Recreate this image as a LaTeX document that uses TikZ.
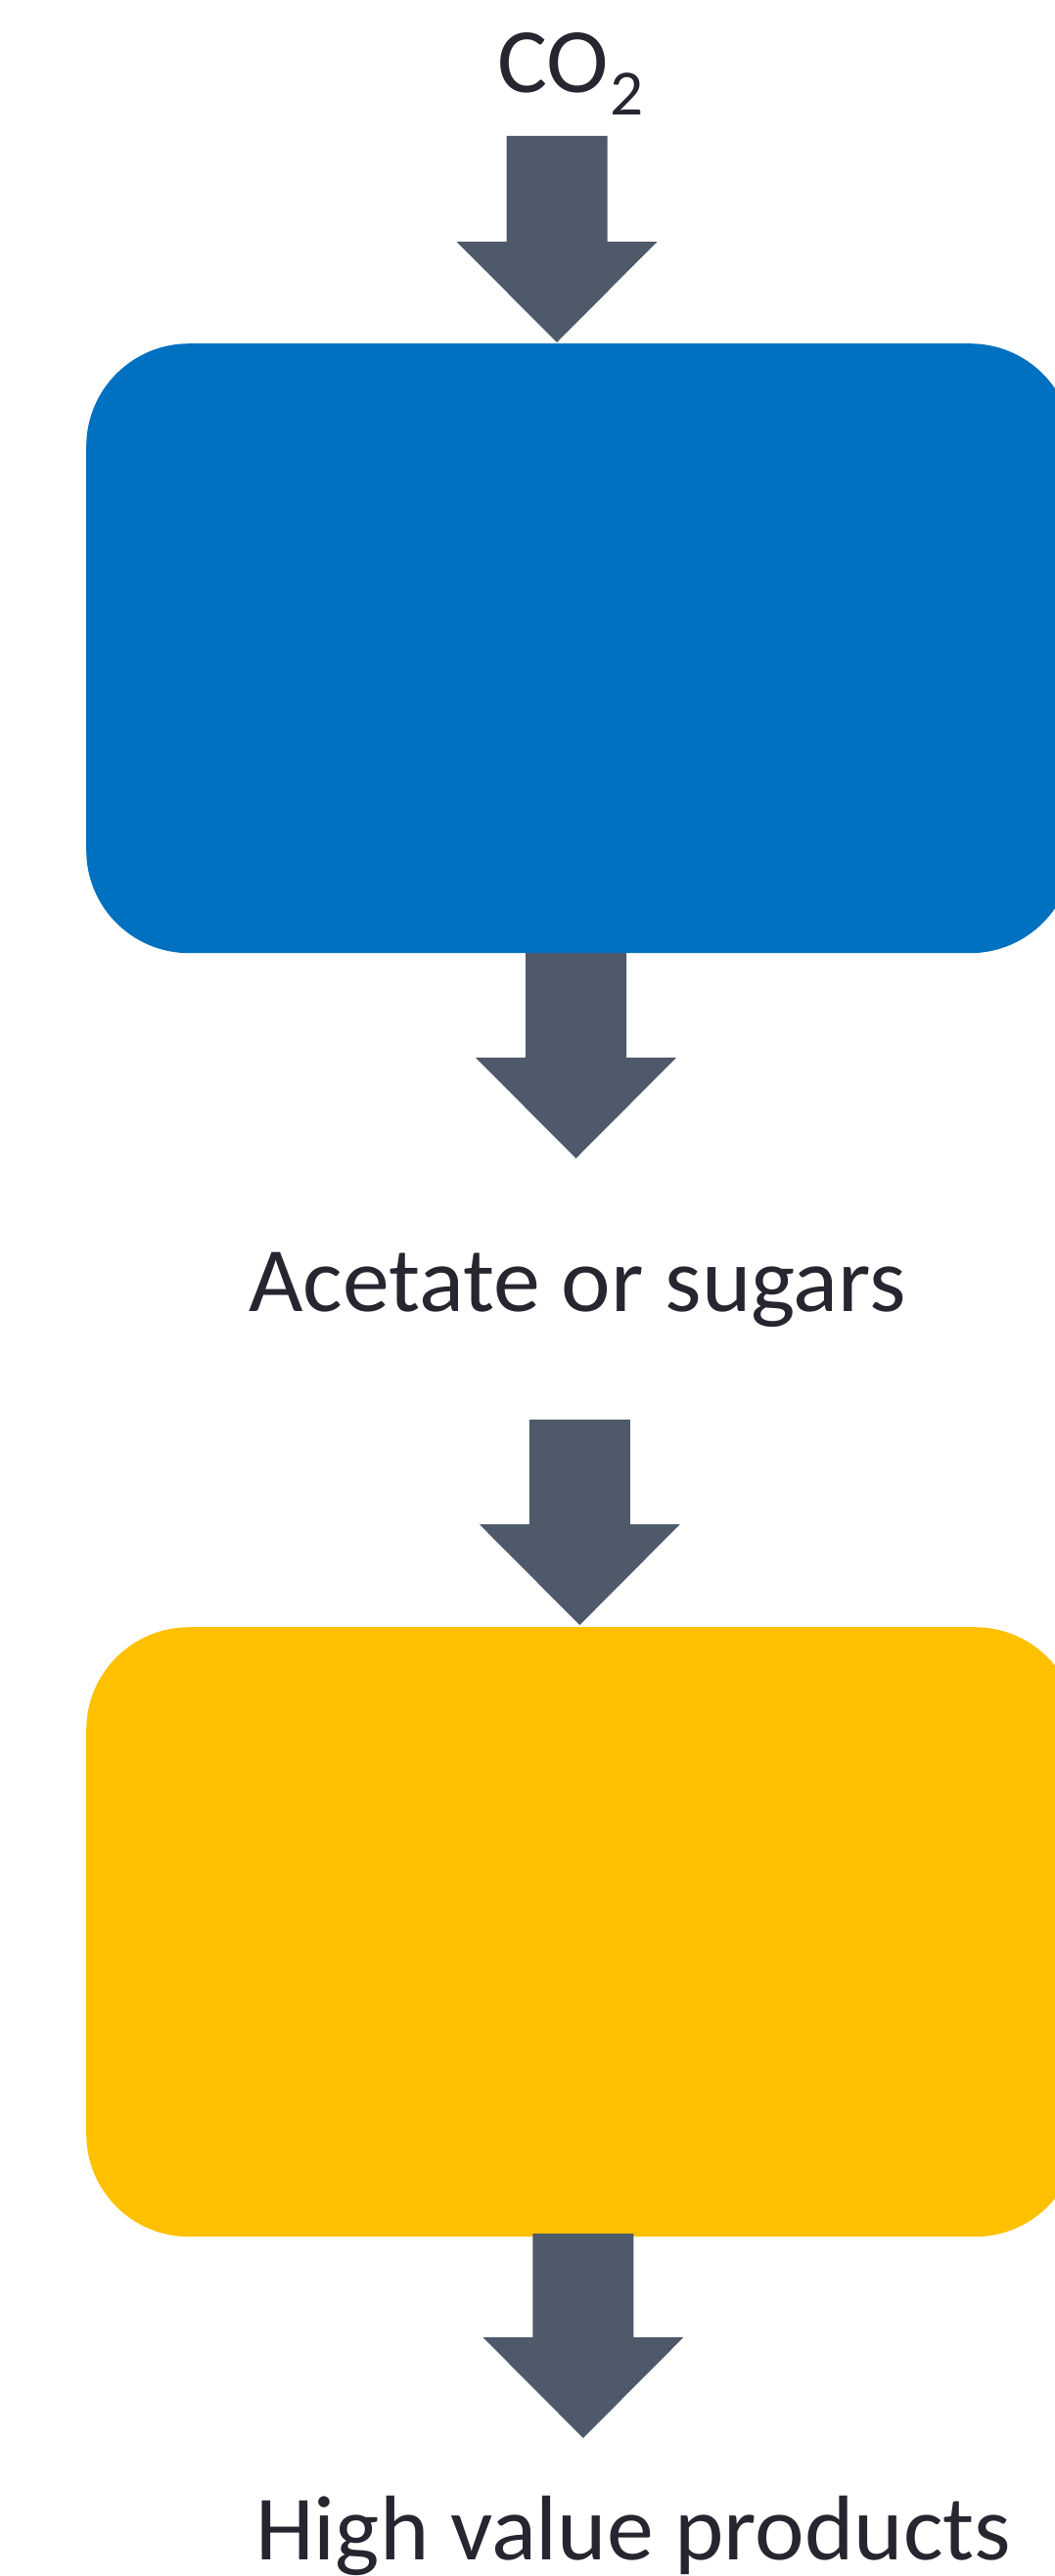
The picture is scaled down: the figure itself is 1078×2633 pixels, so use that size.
\documentclass[tikz,border=0pt]{standalone}
\usepackage{fontspec}
\setmainfont{Carlito}[FakeStretch=1.02]
\definecolor{boxblue}{RGB}{0,112,192}
\definecolor{boxyellow}{RGB}{255,192,0}
\definecolor{arrowgray}{RGB}{78,90,106}
\definecolor{textdark}{RGB}{38,38,48}
\tikzset{
  procbox/.style={rectangle, rounded corners=105pt, draw=none, anchor=north west, minimum height=623pt, inner sep=0pt},
  label text/.style={text=textdark, anchor=base west, inner sep=0pt, font=\fontsize{94}{100}\selectfont},
  blockdown/.pic={\fill[arrowgray] (-51.5,0) -- (51.5,0) -- (51.5,#1) -- (102.5,#1) -- (0,#1+103) -- (-102.5,#1) -- (-51.5,#1) -- cycle;}
}
\begin{document}
\begin{tikzpicture}[x=1pt,y=-1pt]
\useasboundingbox (0,0) rectangle (1078,2633);
\clip (0,0) rectangle (1078,2633);
\fill[white] (0,0) rectangle (1078,2633);
% boxes
\node[procbox, fill=boxblue, minimum width=1008pt] (bio) at (88,351) {};
\node[procbox, fill=boxyellow, minimum width=1013pt] (ferm) at (88,1663) {};
% texts
\node[label text] (co2) at (508,95) {CO\kern2pt\raisebox{-23pt}{\fontsize{66}{70}\selectfont 2}};
\node[label text] (acetate) at (254,1340) {Acetate or sugars};
\node[label text] (products) at (261,2616) {High value products};
% block arrows
\coordinate (a1) at (569,139);
\coordinate (a2) at (588.5,974);
\coordinate (a3) at (592.3,1451);
\coordinate (a4) at (595.9,2283);
\pic at (a1) {blockdown=108};
\pic at (a2) {blockdown=107};
\pic at (a3) {blockdown=107};
\pic at (a4) {blockdown=106};
\end{tikzpicture}
\end{document}
